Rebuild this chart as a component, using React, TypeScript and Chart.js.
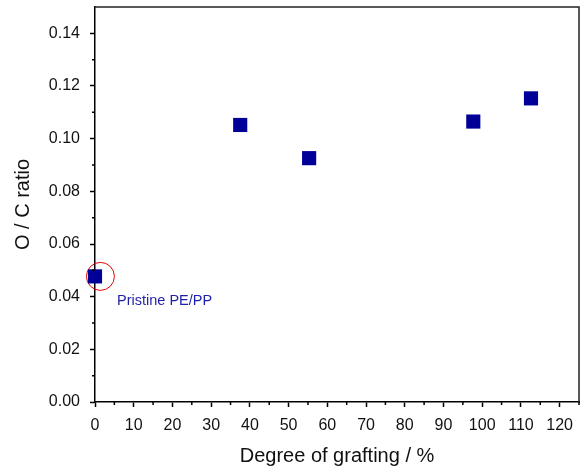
import React, { useEffect, useRef } from 'react';
import { Chart, registerables } from 'chart.js';

Chart.register(...registerables);

// Data
const grafting = [0, 37.5, 55.3, 97.7, 112.6];
const ocRatio = [0.0477, 0.1052, 0.0926, 0.1065, 0.1153];
const highlightX = [1.4];
const highlightY = [0.0477];
const annotationText = 'Pristine PE/PP';
const xTicks = [0, 10, 20, 30, 40, 50, 60, 70, 80, 90, 100, 110, 120];
const xMinorTicks = [5, 15, 25, 35, 45, 55, 65, 75, 85, 95, 105, 115, 125];
const yTicks = [0, 0.02, 0.04, 0.06, 0.08, 0.1, 0.12, 0.14];
const yMinorTicks = [0.01, 0.03, 0.05, 0.07, 0.09, 0.11, 0.13];
const xTitle = 'Degree of grafting / %';
const yTitle = 'O / C ratio';

const FONT = "'Liberation Sans', Arial, sans-serif";

const framePlugin = {
  id: 'frameAndMinor',
  afterDraw(chart: any) {
    const { ctx, chartArea, scales } = chart;
    const { left, right, top, bottom } = chartArea;
    ctx.save();
    ctx.strokeStyle = '#222';
    ctx.lineWidth = 1.5;
    ctx.beginPath();
    ctx.moveTo(left, top);
    ctx.lineTo(right, top);
    ctx.lineTo(right, bottom);
    ctx.stroke();
    ctx.strokeStyle = '#000';
    ctx.lineWidth = 1.5;
    ctx.beginPath();
    xMinorTicks.forEach((v) => {
      const px = scales.x.getPixelForValue(v);
      ctx.moveTo(px, bottom);
      ctx.lineTo(px, bottom + 3);
    });
    yMinorTicks.forEach((v) => {
      const py = scales.y.getPixelForValue(v);
      ctx.moveTo(left, py);
      ctx.lineTo(left - 3, py);
    });
    ctx.stroke();
    const px = scales.x.getPixelForValue(grafting[0]);
    const py = scales.y.getPixelForValue(ocRatio[0]);
    ctx.fillStyle = '#1f1fa8';
    ctx.font = `14.5px ${FONT}`;
    ctx.textAlign = 'left';
    ctx.textBaseline = 'alphabetic';
    ctx.fillText(annotationText, px + 22, py + 29);
    ctx.restore();
  },
};

const zeroPad = (scale: any) => {
  scale.paddingLeft = 0;
  scale.paddingRight = 0;
  scale.paddingTop = 0;
  scale.paddingBottom = 0;
};

export default function App() {
  const canvasRef = useRef<HTMLCanvasElement | null>(null);

  useEffect(() => {
    const canvas = canvasRef.current;
    if (!canvas) return;
    const chart = new Chart(canvas, {
      type: 'scatter',
      data: {
        datasets: [
          {
            data: grafting.map((x, i) => ({ x, y: ocRatio[i] })),
            pointStyle: 'rect',
            pointRadius: 10,
            backgroundColor: '#000099',
            borderColor: '#000099',
            borderWidth: 0,
            clip: false,
          } as any,
          {
            data: highlightX.map((x, i) => ({ x, y: highlightY[i] })),
            pointStyle: 'circle',
            pointRadius: 14,
            backgroundColor: 'rgba(0,0,0,0)',
            borderColor: '#e00000',
            borderWidth: 1,
            clip: false,
          } as any,
        ],
      },
      options: {
        responsive: false,
        animation: false,
        layout: { autoPadding: false, padding: { top: 7, right: 6, left: 0, bottom: 0 } },
        plugins: { legend: { display: false }, tooltip: { enabled: false } },
        scales: {
          x: {
            type: 'linear',
            min: 0,
            max: 125,
            afterBuildTicks: (scale: any) => {
              scale.ticks = xTicks.map((v) => ({ value: v }));
            },
            afterFit: (scale: any) => {
              scale.height = 68;
              zeroPad(scale);
            },
            grid: { drawOnChartArea: false, drawTicks: true, tickLength: 5, tickColor: '#000', tickWidth: 1.5 },
            border: { display: true, color: '#000', width: 1.5 },
            ticks: {
              color: '#111',
              font: { family: FONT, size: 16 },
              padding: 9,
              maxRotation: 0,
              autoSkip: false,
              callback: (v: any) => String(v),
            },
            title: {
              display: true,
              text: xTitle,
              color: '#111',
              font: { family: FONT, size: 20 },
              padding: { top: 0, bottom: 2 },
            },
          },
          y: {
            type: 'linear',
            min: 0,
            max: 0.15,
            afterBuildTicks: (scale: any) => {
              scale.ticks = yTicks.map((v) => ({ value: v }));
            },
            afterFit: (scale: any) => {
              scale.width = 95;
              zeroPad(scale);
            },
            grid: { drawOnChartArea: false, drawTicks: true, tickLength: 5, tickColor: '#000', tickWidth: 1.5 },
            border: { display: true, color: '#000', width: 1.5 },
            ticks: {
              color: '#111',
              font: { family: FONT, size: 16 },
              padding: 10,
              autoSkip: false,
              callback: (v: any) => Number(v).toFixed(2),
            },
            title: {
              display: true,
              text: yTitle,
              color: '#111',
              font: { family: FONT, size: 20 },
              padding: { top: 11, bottom: 0 },
            },
          },
        },
      },
      plugins: [framePlugin],
    } as any);
    return () => chart.destroy();
  }, []);

  return (
    <div style={{ position: 'absolute', left: 0, top: 0, width: 585, height: 470, background: '#fff' }}>
      <canvas ref={canvasRef} width={585} height={470} />
    </div>
  );
}
